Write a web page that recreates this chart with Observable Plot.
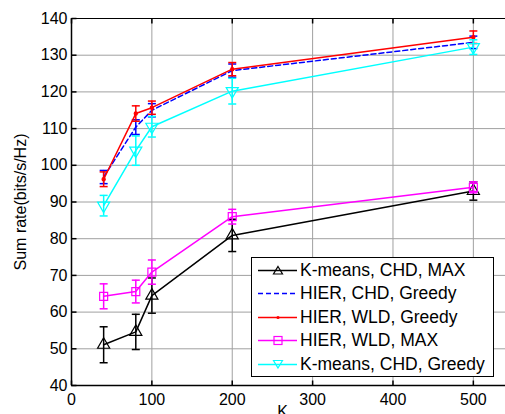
<!DOCTYPE html>
<html><head><meta charset="utf-8">
<script src="https://cdn.jsdelivr.net/npm/d3@7"></script>
<script src="https://cdn.jsdelivr.net/npm/@observablehq/plot@0.6"></script>
<style>
body{margin:0;background:#fff;font-family:"Liberation Sans",Arial,sans-serif;}
#wrap{position:relative;width:505px;height:414px;overflow:hidden;}
#legend{position:absolute;left:251px;top:257px;width:241px;height:118px;border:1px solid #000;background:#fff;font-size:17.5px;}
.row{position:absolute;left:0;height:23px;display:flex;align-items:center;white-space:nowrap;}
.row svg{margin-left:6px;margin-right:3px;}
</style></head>
<body><div id="wrap"><div id="legend"></div></div>
<script>
const K = [40, 80, 100, 200, 500];
const seriesNames = ["K-means, CHD, MAX", "HIER, CHD, Greedy", "HIER, WLD, Greedy", "HIER, WLD, MAX", "K-means, CHD, Greedy"];
const kmeansMax = [51.1, 54.6, 64.5, 80.9, 93.0];
const kmeansMaxErr = [4.9, 4.8, 4.8, 4.4, 2.5];
const hierChdGreedy = [96.8, 110.4, 115.0, 125.8, 133.5];
const hierChdGreedyErr = [1.8, 2.0, 1.8, 1.8, 1.7];
const hierWldGreedy = [96.2, 114.1, 115.7, 126.2, 134.9];
const hierWldGreedyErr = [2.0, 2.1, 1.8, 1.8, 1.7];
const hierWldMax = [64.3, 65.6, 70.9, 86.0, 94.0];
const hierWldMaxErr = [3.4, 3.1, 3.3, 2.0, 1.5];
const kmeansGreedy = [89.0, 104.0, 110.5, 120.2, 132.2];
const kmeansGreedyErr = [2.8, 4.0, 2.8, 3.5, 2.0];
const xTicks = [0, 100, 200, 300, 400, 500];
const yTicks = [40, 50, 60, 70, 80, 90, 100, 110, 120, 130, 140];

const styles = [
  {color: "#000000", symbol: "triangle", rotate: 0, dash: null, fill: "none"},
  {color: "#0000ff", symbol: null, rotate: 0, dash: "5,3", fill: "none"},
  {color: "#ff0000", symbol: "circle", rotate: 0, dash: null, fill: "#ff0000", r: 1.6},
  {color: "#ff00ff", symbol: "square", rotate: 0, dash: null, fill: "none"},
  {color: "#00ffff", symbol: "triangle", rotate: 180, dash: null, fill: "none"}
];
const vals = [kmeansMax, hierChdGreedy, hierWldGreedy, hierWldMax, kmeansGreedy];
const errs = [kmeansMaxErr, hierChdGreedyErr, hierWldGreedyErr, hierWldMaxErr, kmeansGreedyErr];
const data = [];
vals.forEach((v, s) => v.forEach((y, i) => data.push({s, k: K[i], y, lo: y - errs[s][i], hi: y + errs[s][i]})));

const capSym = {draw(ctx){ ctx.moveTo(-4, 0); ctx.lineTo(4, 0); }};
const tickYL = {draw(ctx){ ctx.moveTo(0, 0); ctx.lineTo(5, 0); }};
const tickXB = {draw(ctx){ ctx.moveTo(0, 0); ctx.lineTo(0, -5); }};
const tickXT = {draw(ctx){ ctx.moveTo(0, 0); ctx.lineTo(0, 5); }};

const marks = [
  Plot.ruleX(xTicks.slice(1), {stroke: "#a0a0a0", strokeWidth: 1}),
  Plot.ruleY(yTicks.slice(1, -1), {stroke: "#a0a0a0", strokeWidth: 1}),
  Plot.ruleY([140], {stroke: "#000", strokeWidth: 1}),
  Plot.dot(yTicks, {x: 0, y: d => d, symbol: tickYL, stroke: "#000", fill: "none", r: 5}),
  Plot.dot(xTicks, {x: d => d, y: 40, symbol: tickXB, stroke: "#000", fill: "none", r: 5}),
  Plot.dot(xTicks, {x: d => d, y: 140, symbol: tickXT, stroke: "#000", fill: "none", r: 5}),
];
styles.forEach((st, s) => {
  const d = data.filter(r => r.s === s);
  marks.push(Plot.ruleX(d, {x: "k", y1: "lo", y2: "hi", stroke: st.color, strokeWidth: 1.5}));
  marks.push(Plot.dot(d, {x: "k", y: "lo", symbol: capSym, stroke: st.color, strokeWidth: 1.5, fill: "none", r: 4}));
  marks.push(Plot.dot(d, {x: "k", y: "hi", symbol: capSym, stroke: st.color, strokeWidth: 1.5, fill: "none", r: 4}));
  marks.push(Plot.line(d, {x: "k", y: "y", stroke: st.color, strokeWidth: 1.5, strokeDasharray: st.dash}));
  if (st.symbol) marks.push(Plot.dot(d, {x: "k", y: "y", symbol: st.symbol, rotate: st.rotate, stroke: st.color, fill: st.fill, strokeWidth: 1.2, r: st.r || 4.5}));
});
marks.push(Plot.ruleX([0], {stroke: "#000", strokeWidth: 1.5}));
marks.push(Plot.ruleY([40], {stroke: "#000", strokeWidth: 1.5}));
marks.push(Plot.axisY(yTicks, {tickSize: 0, tickPadding: 4, fontSize: 16, label: "Sum rate(bits/s/Hz)", labelAnchor: "center", labelArrow: "none", labelOffset: 57}));
marks.push(Plot.axisX(xTicks, {tickSize: 0, tickPadding: 8, fontSize: 16, label: null}));
marks.push(Plot.text(["K"], {frameAnchor: "bottom", dx: -6, dy: 20, fontSize: 16, lineAnchor: "top"}));

const chart = Plot.plot({
  width: 505, height: 414,
  marginLeft: 71, marginRight: 0, marginTop: 18, marginBottom: 29,
  style: {fontFamily: "Liberation Sans, Arial, sans-serif", fontSize: "16px", color: "#000", background: "#fff", overflow: "visible"},
  x: {domain: [0, 540]},
  y: {domain: [40, 140]},
  marks
});
document.getElementById("wrap").prepend(chart);

const leg = document.getElementById("legend");
seriesNames.forEach((name, s) => {
  const st = styles[s];
  const row = document.createElement("div");
  row.className = "row";
  row.style.top = (0.5 + s * 23.5) + "px";
  let mk = "";
  if (st.symbol === "triangle" && st.rotate === 0) mk = `<path d="M20,1.5 L24.5,9 L15.5,9 Z" fill="none" stroke="${st.color}" stroke-width="1.2"/>`;
  if (st.symbol === "triangle" && st.rotate === 180) mk = `<path d="M20,9 L24.5,1.5 L15.5,1.5 Z" fill="none" stroke="${st.color}" stroke-width="1.2"/>`;
  if (st.symbol === "square") mk = `<rect x="16" y="1.5" width="8" height="8" fill="none" stroke="${st.color}" stroke-width="1.2"/>`;
  if (st.symbol === "circle") mk = `<circle cx="20" cy="5.5" r="1.6" fill="${st.color}"/>`;
  row.innerHTML = `<svg width="39" height="11"><line x1="0" x2="39" y1="5.5" y2="5.5" stroke="${st.color}" stroke-width="1.5" ${st.dash ? `stroke-dasharray="${st.dash}"` : ""}/>${mk}</svg><span>${name}</span>`;
  leg.appendChild(row);
});
</script></body></html>
